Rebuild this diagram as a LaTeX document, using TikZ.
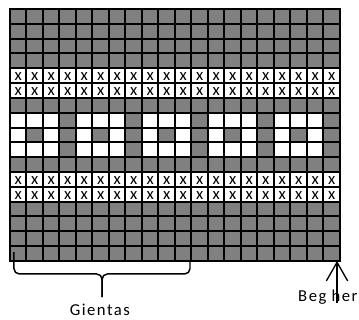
\documentclass[tikz,border=0pt]{standalone}
\usepackage{fontspec}
\setmainfont{Carlito}
\newfontfamily\labelfont[LetterSpace=9]{Carlito}
\usetikzlibrary{arrows.meta}
\definecolor{cellgray}{HTML}{808080}

\begin{document}
\begin{tikzpicture}[x=12.375pt,y=-11.115pt,
    gridline/.style={line width=1.5pt,line cap=rect},
    xmark/.style={inner sep=0pt,yshift=-0.75pt,font=\fontsize{12.5}{14}\selectfont},
    brace/.style={line width=1.1pt,rounded corners=4pt},
    lbl/.style={inner sep=0pt,font=\fontsize{12.5}{14}\selectfont\labelfont}]
  \useasboundingbox (-0.606,-0.607) rectangle (21.152,20.985);
  % solid gray rows
  \foreach \r in {0,1,2,3,6,10,13,14,15,16}
    \fill[cellgray] (0,\r) rectangle (20,\r+1);
  % pattern band
  \foreach \c in {3,7,11,15,19}
    \fill[cellgray] (\c,7) rectangle (\c+1,10);
  \foreach \c in {1,5,9,13,17}
    \fill[cellgray] (\c,8) rectangle (\c+1,9);
  % crossed rows
  \foreach \r in {4,5,11,12}
    \foreach \c in {0,...,19}
      \node[xmark] (x-\r-\c) at (\c+0.5,\r+0.5) {x};
  % grid
  \foreach \c in {0,...,20}
    \draw[gridline] (\c,0) -- (\c,17);
  \foreach \r in {0,...,17}
    \draw[gridline] (0,\r) -- (20,\r);

  % brace
  \coordinate (braceL) at (0.24,16.4);
  \coordinate (braceR) at (10.91,17);
  \coordinate (braceMid) at (5.58,17.88);
  \coordinate (braceTip) at (5.58,19.45);
  \draw[brace] (braceL) |- (braceMid) -- (braceTip);
  \draw[brace] (braceR) |- (braceMid) -- (braceTip);
  \node[lbl,anchor=base] (gientas) at (5.45,20.7) {Gientas};

  % start arrow
  \begin{scope}
    \clip (16,18) rectangle (21.152,19.84);
    \node[lbl,anchor=base west] (beg) at (17.45,19.77) {Beg her};
  \end{scope}
  \coordinate (begtip) at (19.82,17);
  \coordinate (begfoot) at (19.82,19.84);
  \draw[line width=1pt,-{Straight Barb[length=14pt,width=16pt]}] (begfoot) -- (begtip);
\end{tikzpicture}
\end{document}
